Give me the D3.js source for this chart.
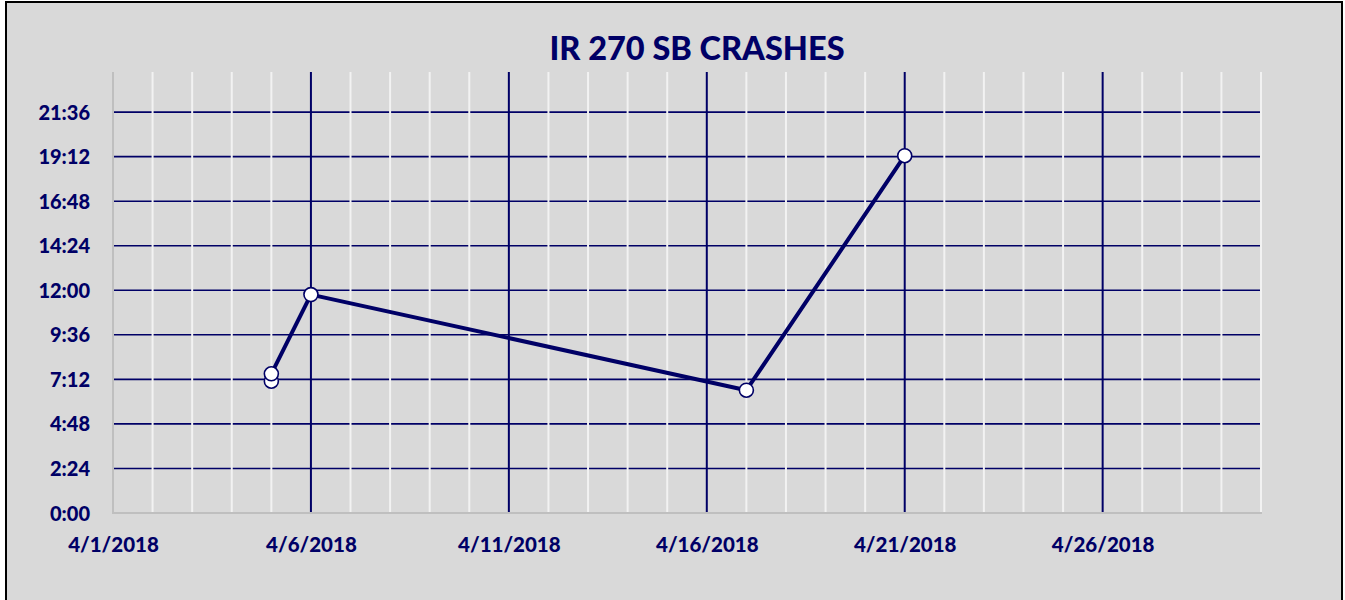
<!DOCTYPE html>
<html>
<head>
<meta charset="utf-8">
<script src="https://cdn.jsdelivr.net/npm/d3@7"></script>
<style>
  html, body { margin: 0; padding: 0; background: #ffffff; }
  svg { display: block; }
</style>
</head>
<body>
<svg id="chart" width="1345" height="600"></svg>
<script>
// ---- data ----
const title = "IR 270 SB CRASHES";
const crashDates = ["2018-04-05", "2018-04-05", "2018-04-06", "2018-04-17", "2018-04-21"];
const crashTimes = ["7:06", "7:30", "11:46", "6:37", "19:15"];
const xTickDates = ["2018-04-01", "2018-04-06", "2018-04-11", "2018-04-16", "2018-04-21", "2018-04-26"];
const xTickLabels = ["4/1/2018", "4/6/2018", "4/11/2018", "4/16/2018", "4/21/2018", "4/26/2018"];
const yTickLabels = ["0:00", "2:24", "4:48", "7:12", "9:36", "12:00", "14:24", "16:48", "19:12", "21:36"];
const xDomain = ["2018-04-01", "2018-04-30"];
const yMaxHours = 23.76;

(function () {
// ---- helpers ----
const parseDate = d3.utcParse("%Y-%m-%d");
const toHours = s => { const [h, m] = s.split(":").map(Number); return h + m / 60; };
const data = crashDates.map((d, i) => ({ date: parseDate(d), hours: toHours(crashTimes[i]) }));
const yTicks = yTickLabels.map(toHours);

const navy = "#000066";
const font = "Lato, 'Open Sans', sans-serif";
const svg = d3.select("#chart");

// background & border
svg.append("rect").attr("x", 0).attr("y", 0).attr("width", 1345).attr("height", 600).attr("fill", "#ffffff");
svg.append("rect").attr("x", 6).attr("y", 2).attr("width", 1336).attr("height", 610)
  .attr("fill", "#d9d9d9").attr("stroke", "#000000").attr("stroke-width", 2);

const pLeft = 113, pRight = 1261, pTop = 72, pBottom = 513;
const x = d3.scaleUtc().domain(xDomain.map(parseDate)).range([pLeft, pRight]);
const y = d3.scaleLinear().domain([0, yMaxHours]).range([pBottom, pTop]);

// horizontal gridlines
svg.append("g").selectAll("line").data(yTicks.filter(v => v > 0)).join("line")
  .attr("x1", pLeft).attr("x2", pRight)
  .attr("y1", d => y(d)).attr("y2", d => y(d))
  .attr("stroke", navy).attr("stroke-width", 1.6);

// minor vertical gridlines (daily, white)
const days = d3.utcDay.range(x.domain()[0], d3.utcDay.offset(x.domain()[1], 1));
const majorSet = new Set(xTickDates);
const fmt = d3.utcFormat("%Y-%m-%d");
svg.append("g").selectAll("line").data(days.filter(d => !majorSet.has(fmt(d)))).join("line")
  .attr("x1", d => x(d)).attr("x2", d => x(d))
  .attr("y1", pTop).attr("y2", pBottom)
  .attr("stroke", "#f2f2f2").attr("stroke-width", 2);

// major vertical gridlines (navy)
svg.append("g").selectAll("line").data(xTickDates.slice(1).map(parseDate)).join("line")
  .attr("x1", d => x(d)).attr("x2", d => x(d))
  .attr("y1", pTop).attr("y2", pBottom)
  .attr("stroke", navy).attr("stroke-width", 2);

// axis lines
svg.append("line").attr("x1", pLeft).attr("x2", pLeft).attr("y1", pTop).attr("y2", pBottom + 1)
  .attr("stroke", "#bfbfbf").attr("stroke-width", 2);
svg.append("line").attr("x1", pLeft).attr("x2", pRight + 1).attr("y1", pBottom).attr("y2", pBottom)
  .attr("stroke", "#bfbfbf").attr("stroke-width", 2);

// axes labels via d3 axes
const yAxis = d3.axisLeft(y).tickValues(yTicks).tickFormat((d, i) => yTickLabels[i]).tickSize(0).tickPadding(0);
const gy = svg.append("g").attr("transform", `translate(90,0)`).call(yAxis);
gy.select(".domain").remove();
gy.selectAll("text").attr("fill", navy).attr("font-family", font)
  .attr("font-weight", 900).attr("font-size", 20).attr("dy", "0.35em");

const xAxis = d3.axisBottom(x).tickValues(xTickDates.map(parseDate)).tickFormat((d, i) => xTickLabels[i]).tickSize(0).tickPadding(0);
const gx = svg.append("g").attr("transform", `translate(0,545)`).call(xAxis);
gx.select(".domain").remove();
gx.selectAll("text").attr("fill", navy).attr("font-family", font)
  .attr("font-weight", 900).attr("font-size", 20.5).attr("dy", "0.35em");

// line
const line = d3.line().x(d => x(d.date)).y(d => y(d.hours));
svg.append("path").datum(data).attr("d", line)
  .attr("fill", "none").attr("stroke", navy).attr("stroke-width", 4).attr("stroke-linejoin", "round");

// markers
svg.append("g").selectAll("circle").data(data).join("circle")
  .attr("cx", d => x(d.date)).attr("cy", d => y(d.hours)).attr("r", 7)
  .attr("fill", "#ffffff").attr("stroke", navy).attr("stroke-width", 1.6);

// title
svg.append("text").attr("x", 697).attr("y", 60).attr("text-anchor", "middle")
  .attr("fill", navy).attr("font-family", font)
  .attr("font-weight", 900).attr("font-size", 32.5).text(title);
})();
</script>
</body>
</html>
